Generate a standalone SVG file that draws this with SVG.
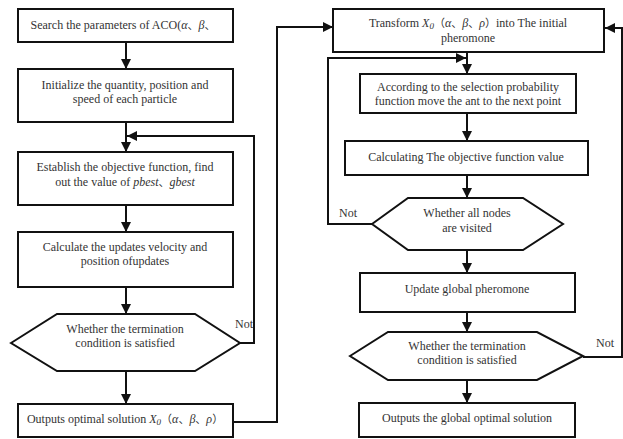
<svg xmlns="http://www.w3.org/2000/svg" width="623" height="439" viewBox="0 0 623 439">
<style>
.box{fill:#fff;stroke:#111;stroke-width:2}
.ln{fill:none;stroke:#111;stroke-width:2}
text{font-family:"Liberation Serif","Times New Roman",serif;font-size:12px;fill:#333;text-anchor:middle}
.c{font-family:"Noto Sans CJK SC",sans-serif;font-size:11px}
.i{font-style:italic}
.s{font-size:9px}
</style>
<defs>
<marker id="ah" viewBox="0 0 10 10" refX="10" refY="5" markerWidth="5" markerHeight="5" orient="auto" markerUnits="strokeWidth">
<path d="M0,0 L10,5 L0,10 z" fill="#111"/>
</marker>
</defs>
<rect width="623" height="439" fill="#fff"/>
<g id="connectors">
<path class="ln" d="M126,42 V69" marker-end="url(#ah)"/>
<path class="ln" d="M126,122 V152" marker-end="url(#ah)"/>
<path class="ln" d="M240,343 H254 V136 H127" marker-end="url(#ah)"/>
<path class="ln" d="M126,205 V232" marker-end="url(#ah)"/>
<path class="ln" d="M126,287 V314" marker-end="url(#ah)"/>
<path class="ln" d="M126,371 V404" marker-end="url(#ah)"/>
<path class="ln" d="M233,422 H277 V27 H333" marker-end="url(#ah)"/>
<path class="ln" d="M467,52 V74" marker-end="url(#ah)"/>
<path class="ln" d="M372,224 H328 V58 H466" marker-end="url(#ah)"/>
<path class="ln" d="M467,113 V141" marker-end="url(#ah)"/>
<path class="ln" d="M467,175 V198" marker-end="url(#ah)"/>
<path class="ln" d="M467,250 V273" marker-end="url(#ah)"/>
<path class="ln" d="M467,312 V332" marker-end="url(#ah)"/>
<path class="ln" d="M467,380 V403" marker-end="url(#ah)"/>
<path class="ln" d="M583,357 H622 V28 H605" marker-end="url(#ah)"/>
<text x="244" y="328">Not</text>
<text x="348" y="217">Not</text>
<text x="605" y="347">Not</text>
</g>
<g id="n1">
<rect class="box" x="18" y="9" width="215" height="33"/>
<text x="123" y="29">Search the parameters of ACO(<tspan class="i">α</tspan><tspan class="c">、</tspan><tspan class="i">β</tspan><tspan class="c">、</tspan></text>
</g>
<g id="n2">
<rect class="box" x="18" y="69" width="215" height="53"/>
<text x="125" y="89">Initialize the quantity, position and</text>
<text x="125" y="103">speed of each particle</text>
</g>
<g id="n3">
<rect class="box" x="18" y="152" width="215" height="53"/>
<text x="125" y="171">Establish the objective function, find</text>
<text x="125" y="186">out the value of <tspan class="i">pbest</tspan><tspan class="c">、</tspan><tspan class="i">gbest</tspan></text>
</g>
<g id="n4">
<rect class="box" x="18" y="232" width="215" height="55"/>
<text x="125" y="251">Calculate the updates velocity and</text>
<text x="125" y="265">position ofupdates</text>
</g>
<g id="n5">
<polygon class="box" points="11,343 57,314 195,314 240,343 195,371 57,371"/>
<text x="125" y="333">Whether the termination</text>
<text x="125" y="347">condition is satisfied</text>
</g>
<g id="n6">
<rect class="box" x="18" y="404" width="215" height="33"/>
<text x="125" y="423">Outputs optimal solution <tspan class="i">X</tspan><tspan class="i s" dy="2">0</tspan><tspan class="c" dy="-2">（</tspan><tspan class="i">α</tspan><tspan class="c">、</tspan><tspan class="i">β</tspan><tspan class="c">、</tspan><tspan class="i">ρ</tspan><tspan class="c">）</tspan></text>
</g>
<g id="n7">
<rect class="box" x="333" y="9" width="271" height="43"/>
<text x="468" y="27">Transform <tspan class="i">X</tspan><tspan class="i s" dy="2">0</tspan><tspan class="c" dy="-2">（</tspan><tspan class="i">α</tspan><tspan class="c">、</tspan><tspan class="i">β</tspan><tspan class="c">、</tspan><tspan class="i">ρ</tspan><tspan class="c">）</tspan>into The initial</text>
<text x="468" y="42">pheromone</text>
</g>
<g id="n8">
<rect class="box" x="360" y="74" width="216" height="39"/>
<text x="468" y="91">According to the selection probability</text>
<text x="468" y="105">function move the ant to the next point</text>
</g>
<g id="n9">
<rect class="box" x="345" y="141" width="243" height="34"/>
<text x="466" y="161">Calculating The objective function value</text>
</g>
<g id="n10">
<polygon class="box" points="372,224 408,198 523,198 563,224 523,250 408,250"/>
<text x="467" y="217">Whether all nodes</text>
<text x="467" y="232">are visited</text>
</g>
<g id="n11">
<rect class="box" x="360" y="273" width="215" height="39"/>
<text x="467" y="293">Update global pheromone</text>
</g>
<g id="n12">
<polygon class="box" points="350,356 388,332 537,332 583,356 537,380 388,380"/>
<text x="467" y="350">Whether the termination</text>
<text x="467" y="364">condition is satisfied</text>
</g>
<g id="n13">
<rect class="box" x="359" y="403" width="216" height="34"/>
<text x="467" y="422">Outputs the global optimal solution</text>
</g>
</svg>
